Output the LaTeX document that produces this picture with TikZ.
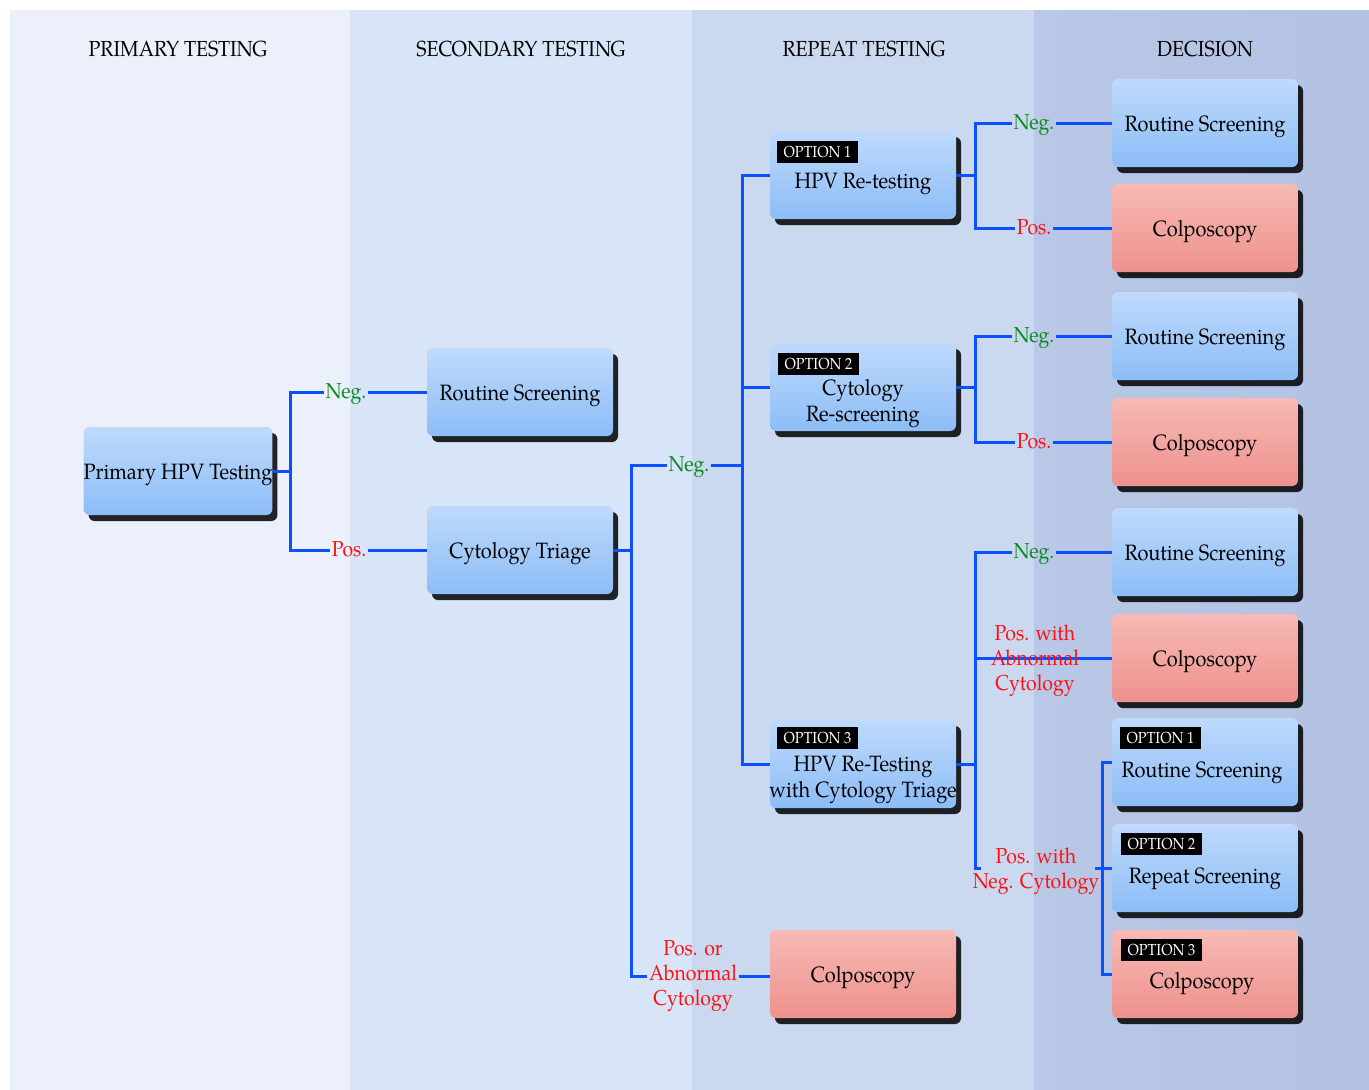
\documentclass[tikz,border=0pt]{standalone}
\usepackage{fontspec}
\setmainfont[FakeStretch=0.9]{TeX Gyre Pagella}
\usetikzlibrary{shadows,calc}
\definecolor{bgA}{HTML}{EBF0FB}
\definecolor{bgB}{HTML}{D8E5F9}
\definecolor{bgC}{HTML}{CBD9F0}
\definecolor{bgD}{HTML}{BAC8E7}
\definecolor{bgE}{HTML}{B3C1E3}
\definecolor{btop}{HTML}{BFDAFC}
\definecolor{bbot}{HTML}{8CBDF6}
\definecolor{rtop}{HTML}{F7BAB5}
\definecolor{rbot}{HTML}{EE918D}
\definecolor{wirec}{HTML}{0A50FF}
\definecolor{negc}{HTML}{0A8A1E}
\definecolor{posc}{HTML}{FF1010}
\newcommand{\bxfont}{\fontsize{22.2}{26}\selectfont}
\newcommand{\lbfont}{\fontsize{21.6}{25}\selectfont}
\newcommand{\hdfont}{\fontsize{21.8}{22}\selectfont}
\newcommand{\tgfont}{\fontsize{16}{16}\selectfont}
\begin{document}
\begin{tikzpicture}[x=1pt,y=-1pt,
  boxbase/.style={rounded corners=6pt, minimum width=186pt, minimum height=88pt, inner sep=0pt,
     align=center, font=\bxfont, text height=16pt, text depth=0pt,
     drop shadow={shadow xshift=5pt, shadow yshift=-6pt, fill=black, opacity=0.85}},
  bluebox/.style={boxbase, top color=btop, bottom color=bbot},
  redbox/.style={boxbase, top color=rtop, bottom color=rbot},
  btext/.style={align=center, font=\bxfont, inner sep=0pt},
  tag/.style={fill=black, text=white, font=\tgfont, minimum width=81pt, minimum height=22pt, inner sep=0pt, anchor=north west},
  lbl/.style={font=\lbfont, align=center, inner sep=1.5pt},
  negl/.style={lbl, text=negc, text height=16pt, text depth=4pt},
  posl/.style={lbl, text=posc},
  posone/.style={posl, text height=16pt, text depth=4pt},
  hdr/.style={font=\hdfont, inner sep=0pt},
  wire/.style={draw=wirec, line width=3pt}]
\useasboundingbox (0,0) rectangle (1369,1090);
\fill[white] (0,0) rectangle (1369,1090);
\fill[bgA] (10,10) rectangle (350,1090);
\fill[bgB] (350,10) rectangle (692,1090);
\fill[bgC] (692,10) rectangle (1034,1090);
\shade[left color=bgD, right color=bgE] (1034,10) rectangle (1369,1090);
% headers
\node[hdr] (h1) at (178,49) {PRIMARY TESTING};
\node[hdr] (h2) at (521,49) {SECONDARY TESTING};
\node[hdr] (h3) at (864,49) {REPEAT TESTING};
\node[hdr] (h4) at (1205,49) {DECISION};
% boxes
\node[bluebox] (prim) at (178,471) {Primary HPV Testing};
\node[bluebox] (rs0) at (520,392) {Routine Screening};
\node[bluebox] (ct) at (520,550) {Cytology Triage};
\node[bluebox] (o1) at (863,175) {};
\node[bluebox] (o2) at (863,387) {};
\node[bluebox] (o3) at (863,764) {};
\node[redbox] (colA) at (863,974) {Colposcopy};
\node[bluebox] (d1) at (1205,123) {Routine Screening};
\node[redbox] (d2) at (1205,228) {Colposcopy};
\node[bluebox] (d3) at (1205,336) {Routine Screening};
\node[redbox] (d4) at (1205,442) {Colposcopy};
\node[bluebox] (d5) at (1205,552) {Routine Screening};
\node[redbox] (d6) at (1205,658) {Colposcopy};
\node[bluebox] (d7) at (1205,762) {};
\node[bluebox] (d8) at (1205,868) {};
\node[redbox] (d9) at (1205,974) {};
% box texts and option tags
\node[tag] (o1g) at ($(o1.north west)+(7,10)$) {OPTION 1};
\node[btext] (o1t) at ($(o1.center)+(0,9)$) {HPV Re-testing};
\node[tag] (o2g) at ($(o2.north west)+(8,10)$) {OPTION 2};
\node[btext] (o2t) at ($(o2.center)+(0,17)$) {Cytology\\Re-screening};
\node[tag] (o3g) at ($(o3.north west)+(7,7)$) {OPTION 3};
\node[btext] (o3t) at ($(o3.center)+(0,16)$) {HPV Re-Testing\\with Cytology Triage};
\node[tag] (d7g) at ($(d7.north west)+(8,9)$) {OPTION 1};
\node[btext] (d7t) at ($(d7.center)+(-3,11)$) {Routine Screening};
\node[tag] (d8g) at ($(d8.north west)+(9,9)$) {OPTION 2};
\node[btext] (d8t) at ($(d8.center)+(0,11)$) {Repeat Screening};
\node[tag] (d9g) at ($(d9.north west)+(9,9)$) {OPTION 3};
\node[btext] (d9t) at ($(d9.center)+(-3,10)$) {Colposcopy};
% labels
\node[negl] (n1) at (346,392) {Neg.};
\node[posone] (p1) at (349,550) {Pos.};
\node[negl] (n2) at (689,465) {Neg.};
\node[posl] (p2) at (693,976) {Pos. or\\Abnormal\\Cytology};
\node[negl] (n3) at (1034,123) {Neg.};
\node[posone] (p3) at (1034,228) {Pos.};
\node[negl] (n4) at (1034,336) {Neg.};
\node[posone] (p4) at (1034,442) {Pos.};
\node[negl] (n5) at (1034,552) {Neg.};
% junctions
\coordinate (j1) at (290,471);
\coordinate (j2) at (631,550);
\coordinate (j3) at (742,465);
\coordinate (j4) at (975,175);
\coordinate (j5) at (975,387);
\coordinate (j6) at (975,764);
\coordinate (k1) at (981,868);
\coordinate (k2) at (1095,868);
\coordinate (j7) at (1102,868);
% wires
\draw[wire] (prim.east) -- (j1) (j1) |- (n1.west) (n1.east) -- (n1.east -| rs0.west)
  (j1) |- (p1.west) (p1.east) -- (p1.east -| ct.west);
\draw[wire] (ct.east) -- (j2) (j2) |- (n2.west) (n2.east) -- (j3)
  (j2) |- (p2.west) (p2.east) -- (p2.east -| colA.west);
\draw[wire] (j3) |- (o1.west) (j3) |- (o2.west) (j3) |- (o3.west);
\draw[wire] (o1.east) -- (j4) (j4) |- (n3.west) (n3.east) -- (n3.east -| d1.west)
  (j4) |- (p3.west) (p3.east) -- (p3.east -| d2.west);
\draw[wire] (o2.east) -- (j5) (j5) |- (n4.west) (n4.east) -- (n4.east -| d3.west)
  (j5) |- (p4.west) (p4.east) -- (p4.east -| d4.west);
\draw[wire] (o3.east) -- (j6) (j6) |- (n5.west) (n5.east) -- (n5.east -| d5.west)
  (j6) |- (d6.west) (j6) |- (k1) (k2) -- (j7)
  (j7) |- (d7.west) (j7) -- (d8.west) (j7) |- (d9.west);
\node[posl] (p5) at (1035,661) {Pos. with\\Abnormal\\Cytology};
\node[posl] (p6) at (1036,871) {Pos. with\\Neg. Cytology};
\end{tikzpicture}
\end{document}
